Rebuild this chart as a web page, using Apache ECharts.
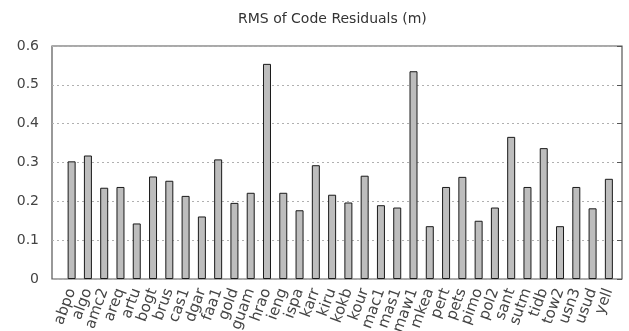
<!DOCTYPE html>
<html>
<head>
<meta charset="utf-8">
<script src="https://cdn.jsdelivr.net/npm/echarts@6/dist/echarts.min.js"></script>
<style>
  html, body { margin: 0; padding: 0; background: #fff; }
  #chart { width: 629px; height: 331px; }
</style>
</head>
<body>
<div id="chart"></div>
<script>
// stations along the x axis
const stations = ['abpo', 'algo', 'amc2', 'areq', 'artu', 'bogt', 'brus', 'cas1', 'dgar', 'faa1',
  'gold', 'guam', 'hrao', 'ieng', 'ispa', 'karr', 'kiru', 'kokb', 'kour', 'mac1',
  'mas1', 'maw1', 'mkea', 'pert', 'pets', 'pimo', 'pol2', 'sant', 'sutm', 'tidb',
  'tow2', 'usn3', 'usud', 'yell']
// RMS of code residuals, metres
const rms = [0.303, 0.318, 0.235, 0.237, 0.143, 0.264, 0.253, 0.214, 0.161, 0.308,
  0.196, 0.222, 0.554, 0.222, 0.177, 0.293, 0.217, 0.197, 0.266, 0.190,
  0.184, 0.535, 0.136, 0.237, 0.263, 0.150, 0.184, 0.366, 0.237, 0.337,
  0.136, 0.237, 0.182, 0.258]
const yMin = 0
const yMax = 0.6
const yStep = 0.1

const font = 'DejaVu Sans'
const chart = echarts.init(document.getElementById('chart'))

// grid 0 = frame + y scale, grid 1 = bars (narrower, like the gnuplot x range)
chart.setOption({
  animation: false,
  backgroundColor: '#fff',
  title: {
    text: 'RMS of Code Residuals (m)',
    left: 233,
    top: 7,
    textStyle: { fontFamily: font, fontSize: 14, fontWeight: 'normal', color: '#333' },
  },
  grid: [
    {
      left: 52, right: 7, top: 46, bottom: 52,
      containLabel: false, outerBoundsMode: 'none',
      show: true, borderColor: '#555', borderWidth: 1.2, backgroundColor: 'transparent',
    },
    { left: 63.5, right: 12, top: 46, bottom: 52, containLabel: false, outerBoundsMode: 'none' },
  ],
  xAxis: [
    { type: 'category', gridIndex: 0, data: [''], show: false },
    {
      type: 'category',
      gridIndex: 1,
      data: stations,
      axisLine: { show: false },
      axisTick: { show: false },
      axisLabel: {
        interval: 0,
        rotate: 70,
        margin: 10,
        fontFamily: font,
        fontSize: 15,
        color: '#444',
      },
    },
  ],
  yAxis: [
    {
      type: 'value',
      gridIndex: 0,
      min: yMin,
      max: yMax,
      interval: yStep,
      axisLine: { show: false },
      axisTick: { show: false },
      axisLabel: {
        margin: 13,
        fontFamily: font,
        fontSize: 14,
        color: '#444',
        formatter: v => (v === 0 ? '0' : v.toFixed(1)),
      },
      splitLine: { lineStyle: { color: '#b0b0b0', type: [2, 3], width: 1 } },
    },
    {
      type: 'value',
      gridIndex: 0,
      position: 'right',
      min: yMin,
      max: yMax,
      interval: yStep,
      axisLine: { show: false },
      axisTick: { show: true, inside: true, length: 5, lineStyle: { color: '#555' } },
      axisLabel: { show: false },
      splitLine: { show: false },
    },
    { type: 'value', gridIndex: 1, min: yMin, max: yMax, show: false },
  ],
  series: [{
    type: 'bar',
    xAxisIndex: 1,
    yAxisIndex: 2,
    data: rms,
    barWidth: 8,
    itemStyle: { color: '#bdbdbd', borderColor: '#1a1a1a', borderWidth: 1 },
  }],
})
</script>
</body>
</html>
